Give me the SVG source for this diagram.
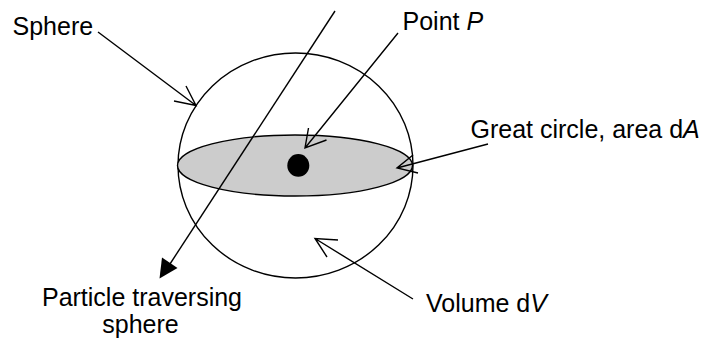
<svg xmlns="http://www.w3.org/2000/svg" width="703" height="339" viewBox="0 0 703 339">
<style>
text{font-family:"Liberation Sans",Arial,sans-serif;font-size:25px;fill:#000}
.ln{stroke:#000;stroke-width:1.4;fill:none}
</style>
<rect width="703" height="339" fill="#fff"/>
<g id="sphere">
<ellipse cx="295.5" cy="165.5" rx="117.5" ry="112.5" class="ln"/>
</g>
<g id="great-circle">
<ellipse cx="295" cy="165.5" rx="117.5" ry="30.5" fill="#cccccc" stroke="#000" stroke-width="1.4"/>
</g>
<g id="point-p">
<ellipse cx="298.3" cy="165.4" rx="11" ry="11.3" fill="#000"/>
</g>
<g id="connectors">
<path class="ln" d="M335,11 L168,267"/>
<path d="M159.5,278.5 L162,257.5 L177.5,268 Z" fill="#000"/>
<path class="ln" d="M98,32 L196,105.5 M186,86 L196,105.5 L174,101"/>
<path class="ln" d="M398,33 L305,148 M308.5,128 L305,148 L326.5,140"/>
<path class="ln" d="M488,144 L397,168 M413,155 L397,168 L418,173"/>
<path class="ln" d="M413,299 L315,238.5 M338,240 L315,238.5 L327,257"/>
</g>
<g id="labels">
<text x="12.5" y="35">Sphere</text>
<text x="402.5" y="30">Point <tspan font-style="italic">P</tspan></text>
<text x="470.5" y="138">Great circle, area d<tspan font-style="italic">A</tspan></text>
<text x="142" y="306" text-anchor="middle">Particle traversing</text>
<text x="140.5" y="332.5" text-anchor="middle">sphere</text>
<text x="426" y="311.5">Volume d<tspan font-style="italic">V</tspan></text>
</g>
</svg>
